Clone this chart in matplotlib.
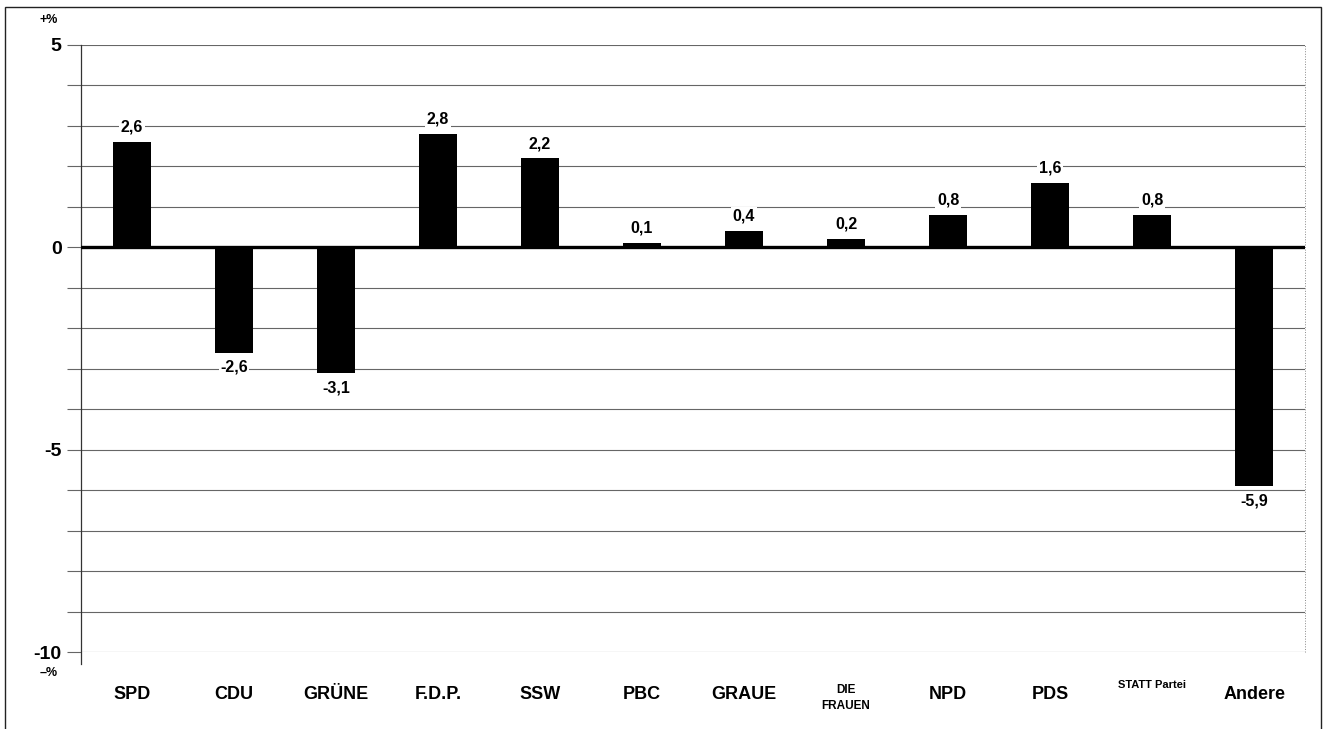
import matplotlib
matplotlib.use("Agg")
import numpy as np
import matplotlib.pyplot as plt
from matplotlib.patches import Rectangle

parteien = ['SPD', 'CDU', 'GRÜNE', 'F.D.P.', 'SSW', 'PBC', 'GRAUE',
            'DIE\nFRAUEN', 'NPD', 'PDS', 'STATT Partei', 'Andere']
veraenderung = [2.6, -2.6, -3.1, 2.8, 2.2, 0.1, 0.4, 0.2, 0.8, 1.6, 0.8, -5.9]
y_ticks = [5, 0, -5, -10]

plt.rcParams['font.family'] = ['Liberation Sans', 'DejaVu Sans']

fig = plt.figure(figsize=(13.24, 7.29), dpi=100)
ax = fig.add_axes([0.0612, 0.1056, 0.9245, 0.8327])

x = np.arange(len(parteien))
ax.bar(x, veraenderung, width=0.37, color='black', zorder=3)
ax.set_xlim(-0.5, len(parteien) - 0.5)
ax.set_ylim(-10, 5)

# grid every 1 %
ax.set_yticks(np.arange(-10, 6, 1), minor=True)
ax.set_yticks(y_ticks)
ax.set_yticklabels([str(t) for t in y_ticks], fontsize=14, fontweight='bold')
ax.grid(axis='y', which='both', color='#666666', lw=0.8, zorder=0)
ax.tick_params(axis='y', which='both', length=10, color='#666666', width=0.8, pad=4)
ax.axhline(0, color='black', lw=2.4, zorder=4)

ax.set_xticks(x)
ax.set_xticklabels([])
ax.tick_params(axis='x', length=0)
for i, name in enumerate(parteien):
    if name == 'DIE\nFRAUEN':
        ax.text(i, -10.78, name, ha='center', va='top', fontsize=8.5,
                fontweight='bold', linespacing=1.5)
    elif name == 'STATT Partei':
        ax.text(i, -10.68, name, ha='center', va='top', fontsize=8, fontweight='bold')
    else:
        ax.text(i, -10.85, name, ha='center', va='top', fontsize=13, fontweight='bold')

for i, v in enumerate(veraenderung):
    lab = f'{v:.1f}'.replace('.', ',')
    if v >= 0:
        ax.text(i, v + 0.18, lab, ha='center', va='bottom', fontsize=11.5,
                fontweight='bold', zorder=5,
                bbox=dict(facecolor='white', edgecolor='none', pad=1))
    else:
        ax.text(i, v - 0.18, lab, ha='center', va='top', fontsize=11.5,
                fontweight='bold', zorder=5,
                bbox=dict(facecolor='white', edgecolor='none', pad=1))

for s in ['top', 'right', 'bottom']:
    ax.spines[s].set_visible(False)
ax.spines['left'].set_color('#333333')
ax.spines['left'].set_linewidth(0.9)
ax.spines['left'].set_bounds(-10.3, 5)
ax.plot([1, 1], [0, 1], transform=ax.transAxes, color='#888888', lw=0.7,
        ls=':', clip_on=False)

fig.text(0.030, 0.972, '+%', fontsize=9, fontweight='bold', va='center', ha='left')
fig.text(0.030, 0.077, '\u2013%', fontsize=9, fontweight='bold', va='center', ha='left')

fig.patches.append(Rectangle((0.004, -0.01), 0.994, 1.0, transform=fig.transFigure,
                             fill=False, edgecolor='#222222', lw=1.0))

fig.savefig('out.png', dpi=100)
